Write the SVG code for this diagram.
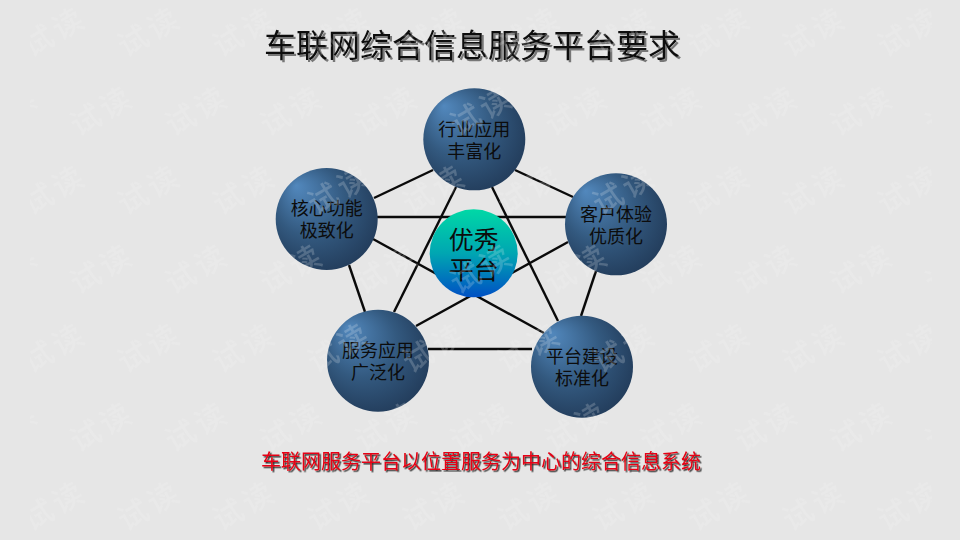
<svg xmlns="http://www.w3.org/2000/svg" width="960" height="540" viewBox="0 0 960 540">
<style>
text{font-family:"Noto Sans CJK SC","Liberation Sans",sans-serif;text-anchor:middle}
.n{font-size:18px;fill:#0c0c0c}
.c{font-size:25px;fill:#0c0c0c}
.w{font-size:30px;letter-spacing:4px;fill:#f4f4f4;fill-opacity:.2;font-weight:500}
line{stroke:#0a0a0a;stroke-width:2.4}
</style>
<defs>
<radialGradient id="b" cx=".5" cy=".5" r=".78" fx=".2" fy=".17">
<stop offset="0" stop-color="#5288bd"/><stop offset=".45" stop-color="#33597f"/><stop offset="1" stop-color="#182a44"/>
</radialGradient>
<linearGradient id="g" x1="0" y1="0" x2="0" y2="1">
<stop offset="0" stop-color="#00d8a6"/><stop offset=".5" stop-color="#00a6b2"/><stop offset="1" stop-color="#0050c4"/>
</linearGradient>
<filter id="s1" x="-5%" y="-20%" width="110%" height="140%"><feDropShadow dx="2" dy="2" stdDeviation=".6" flood-color="#777"/></filter>
<filter id="s2" x="-5%" y="-20%" width="110%" height="140%"><feDropShadow dx="1.500" dy="1.500" stdDeviation=".3" flood-color="#333"/></filter>
<pattern id="wm" width="190" height="158" patternUnits="userSpaceOnUse" x="3" y="-47">
<text class="w" transform="translate(52,79) rotate(-30)" y="10">试读</text>
<text class="w" transform="translate(147,79) rotate(-30)" y="10">试读</text>
<text class="w" transform="translate(4.500,158) rotate(-30)" y="10">试读</text>
<text class="w" transform="translate(99.500,158) rotate(-30)" y="10">试读</text>
<text class="w" transform="translate(194.500,158) rotate(-30)" y="10">试读</text>
<text class="w" transform="translate(4.500,0) rotate(-30)" y="10">试读</text>
<text class="w" transform="translate(99.500,0) rotate(-30)" y="10">试读</text>
<text class="w" transform="translate(194.500,0) rotate(-30)" y="10">试读</text>
</pattern>
</defs>
<rect width="960" height="540" fill="#e6e6e6"/>
<g id="connectors">
<line x1="433" y1="170" x2="374" y2="198"/>
<line x1="515" y1="170" x2="573" y2="197"/>
<line x1="349" y1="265" x2="365" y2="312"/>
<line x1="596" y1="271" x2="581" y2="316"/>
<line x1="377" y1="217" x2="566" y2="217"/>
<line x1="428" y1="349" x2="532" y2="349"/>
<line x1="456" y1="187" x2="394" y2="312"/>
<line x1="492" y1="187" x2="558" y2="321"/>
<line x1="373" y1="239" x2="544" y2="333"/>
<line x1="568" y1="242" x2="416" y2="326"/>
</g>
<g id="hub"><circle cx="473.7" cy="253.3" r="44" fill="url(#g)"/>
<text class="c" x="473.7" y="249">优秀</text><text class="c" x="473.7" y="279">平台</text></g>
<g id="n1"><circle cx="474.3" cy="139.3" r="51" fill="url(#b)"/>
<text class="n" x="474.3" y="136">行业应用</text><text class="n" x="474.3" y="158">丰富化</text></g>
<g id="n2"><circle cx="326.7" cy="219" r="51" fill="url(#b)"/>
<text class="n" x="326.7" y="215">核心功能</text><text class="n" x="326.7" y="237">极致化</text></g>
<g id="n3"><circle cx="616" cy="224.3" r="51" fill="url(#b)"/>
<text class="n" x="616" y="221">客户体验</text><text class="n" x="616" y="243">优质化</text></g>
<g id="n4"><circle cx="378" cy="360.7" r="51" fill="url(#b)"/>
<text class="n" x="378" y="357">服务应用</text><text class="n" x="378" y="379">广泛化</text></g>
<g id="n5"><circle cx="582" cy="366.7" r="51" fill="url(#b)"/>
<text class="n" x="582" y="363">平台建设</text><text class="n" x="582" y="385">标准化</text></g>
<g id="title">
<text x="472" y="57" font-size="32" fill="#111" filter="url(#s1)">车联网综合信息服务平台要求</text>
</g>
<g id="caption">
<text x="481" y="469" font-size="20" fill="#e60012" filter="url(#s2)">车联网服务平台以位置服务为中心的综合信息系统</text>
</g>
<rect id="watermark" x="30" width="902" height="540" fill="url(#wm)"/>
</svg>
